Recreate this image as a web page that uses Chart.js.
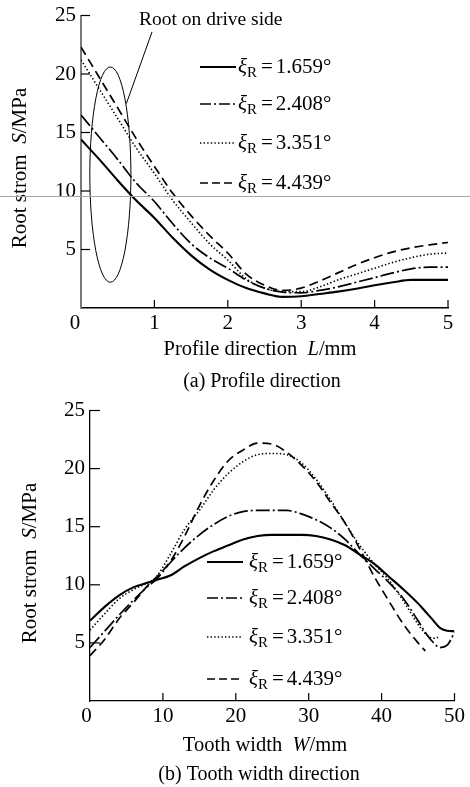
<!DOCTYPE html>
<html><head><meta charset="utf-8">
<script src="https://cdn.jsdelivr.net/npm/chart.js@4.4.0/dist/chart.umd.min.js"></script>
<style>
html,body{margin:0;padding:0;background:#fff;}
#wrap{position:relative;width:470px;height:787px;overflow:hidden;background:#fff;}
#chartA{position:absolute;left:0;top:0;}
#chartB{position:absolute;left:0;top:395px;}
#scan{position:absolute;left:0;top:196px;width:470px;height:1px;background:#a6a6a6;}
</style></head><body>
<div id="wrap">
<canvas id="chartA" width="470" height="395"></canvas>
<canvas id="chartB" width="470" height="392"></canvas>
<div id="scan"></div>
</div>
<script>
// ---------- data ----------
const seriesLabels = ['1.659', '2.408', '3.351', '4.439'];

// (a) Profile direction
const profileL = [0, 0.25, 0.5, 0.75, 1, 1.25, 1.5, 1.75, 2, 2.25, 2.5, 2.75, 3, 3.25, 3.5, 3.75, 4, 4.25, 4.5, 4.75, 5];
const profile1659 = [14.4, 12.7, 10.9, 9.2, 7.7, 6.0, 4.5, 3.3, 2.4, 1.7, 1.25, 0.95, 1.0, 1.2, 1.4, 1.65, 1.95, 2.2, 2.4, 2.4, 2.4];
const profile2408 = [16.5, 14.6, 12.7, 10.7, 9.1, 7.2, 5.5, 4.3, 3.4, 2.4, 1.7, 1.35, 1.3, 1.5, 1.8, 2.2, 2.6, 3.0, 3.35, 3.5, 3.5];
const profile3351 = [21.2, 18.7, 16.2, 13.7, 11.5, 9.2, 7.3, 5.5, 4.1, 2.5, 1.7, 1.4, 1.4, 1.8, 2.4, 2.9, 3.4, 3.9, 4.3, 4.6, 4.7];
const profile4439 = [22.3, 19.7, 17.1, 14.5, 12.1, 9.8, 7.9, 6.2, 4.7, 2.9, 1.95, 1.5, 1.7, 2.3, 3.0, 3.7, 4.3, 4.8, 5.15, 5.4, 5.6];

// (b) Tooth width direction
const widthW = [0, 2, 4, 6, 8, 9, 11, 13, 15, 17, 19, 21, 23, 25, 27, 29, 31, 33, 35, 37, 39, 41, 43, 45, 46, 47, 48, 49, 50];
const width1659 = [6.9, 8.1, 9.1, 9.8, 10.2, 10.4, 10.8, 11.6, 12.3, 12.9, 13.4, 13.9, 14.2, 14.3, 14.3, 14.3, 14.2, 13.9, 13.4, 12.6, 11.8, 10.7, 9.6, 8.4, 7.7, 7.0, 6.3, 6.05, 6.0];
const width2408 = [4.6, 6.0, 7.4, 8.7, 9.9, 10.4, 11.9, 13.2, 14.3, 15.2, 15.9, 16.3, 16.4, 16.4, 16.4, 16.1, 15.6, 14.9, 13.9, 12.6, 11.4, 10.2, 8.8, 6.9, 5.9, 5.1, 4.6, 4.8, 5.9];
const width3351 = [6.1, 7.5, 8.8, 9.6, 10.2, 10.6, 12.6, 14.8, 16.4, 18.2, 19.6, 20.6, 21.2, 21.3, 21.2, 20.5, 19.1, 17.3, 15.3, 13.4, 11.8, 10.4, 8.6, 6.6, 5.8, 5.4, 5.5, null, null];
const width4439 = [3.9, 5.3, 7.1, 8.5, 10.0, 10.6, 12.0, 14.2, 16.8, 19.0, 20.7, 21.6, 22.2, 22.1, 21.4, 20.3, 18.9, 17.1, 15.3, 13.1, 10.7, 8.6, 6.6, 5.0, 4.3, null, null, null, null];

const yTicks = [0, 5, 10, 15, 20, 25];

// ---------- styles ----------
const FONT = '"Liberation Serif", "Times New Roman", serif';
const styles = [
  { dash: [], width: 2.1 },
  { dash: [14, 3, 2, 3], width: 1.7 },
  { dash: [1.4, 2.2], width: 1.6 },
  { dash: [9, 5], width: 1.7 }
];

function makeDatasets(xs, arrays) {
  return arrays.map((arr, i) => ({
    label: seriesLabels[i],
    data: xs.map((x, k) => ({ x: x, y: arr[k] })),
    borderColor: '#000',
    borderWidth: styles[i].width,
    borderDash: styles[i].dash,
    pointRadius: 0,
    fill: false,
    cubicInterpolationMode: 'monotone',
    spanGaps: false
  }));
}

function fontOf(p, base) {
  const size = p.size || base;
  return (p.it ? 'italic ' : '') + size + 'px ' + FONT;
}
function richWidth(ctx, parts, base) {
  let w = 0;
  parts.forEach(p => { ctx.font = fontOf(p, base); w += (p.gl || 0) + ctx.measureText(p.t).width + (p.gr || 0); });
  return w;
}
function drawRich(ctx, parts, x, y, base, align) {
  ctx.save();
  ctx.textBaseline = 'middle';
  ctx.textAlign = 'left';
  ctx.fillStyle = '#000';
  let cx = align === 'center' ? x - richWidth(ctx, parts, base) / 2 : x;
  parts.forEach(p => {
    ctx.font = fontOf(p, base);
    cx += (p.gl || 0);
    ctx.fillText(p.t, cx, y + (p.dy || 0));
    cx += ctx.measureText(p.t).width + (p.gr || 0);
  });
  ctx.restore();
}
function legendParts(val) {
  return [
    { t: 'ξ', it: true },
    { t: 'R', size: 15, dy: 6 },
    { t: '=', gl: 4, gr: 3 },
    { t: val + '°' }
  ];
}
function drawLegend(ctx, x0, x1, tx, ys) {
  ys.forEach((y, i) => {
    ctx.save();
    ctx.strokeStyle = '#000';
    ctx.lineWidth = styles[i].width;
    ctx.setLineDash(i === 1 ? [11, 3, 2, 3] : (i === 3 ? [8, 4] : styles[i].dash));
    ctx.beginPath();
    ctx.moveTo(x0, y);
    ctx.lineTo(x1, y);
    ctx.stroke();
    ctx.restore();
    drawRich(ctx, legendParts(seriesLabels[i]), tx, y, 21, 'left');
  });
}
function drawInwardTicks(chart, xLen, yLen) {
  const { ctx, scales: { x, y }, chartArea } = chart;
  ctx.save();
  ctx.strokeStyle = '#000';
  ctx.lineWidth = 1.2;
  x.ticks.forEach(t => {
    if (t.value === 0) return;
    const px = x.getPixelForValue(t.value);
    ctx.beginPath(); ctx.moveTo(px, chartArea.bottom); ctx.lineTo(px, chartArea.bottom - xLen); ctx.stroke();
  });
  y.ticks.forEach(t => {
    if (t.value === 0) return;
    const py = y.getPixelForValue(t.value);
    ctx.beginPath(); ctx.moveTo(chartArea.left, py); ctx.lineTo(chartArea.left + yLen, py); ctx.stroke();
  });
  ctx.restore();
}
// shared origin label "0", set slightly left of the corner as in the original
function drawOrigin(chart, shift) {
  const { ctx, scales: { x }, chartArea } = chart;
  ctx.save();
  ctx.font = '21px ' + FONT;
  ctx.fillStyle = '#000';
  ctx.textAlign = 'center';
  ctx.textBaseline = 'top';
  ctx.fillText('0', x.getPixelForValue(0) - shift, chartArea.bottom + 5);
  ctx.restore();
}
function yTitle(ctx, cx, cy) {
  ctx.save();
  ctx.translate(cx, cy);
  ctx.rotate(-Math.PI / 2);
  drawRich(ctx, [{ t: 'Root strom  ' }, { t: 'S', it: true }, { t: '/MPa' }], 0, 0, 21, 'center');
  ctx.restore();
}

const commonScaleY = (w, borderColor, borderWidth) => ({
  type: 'linear', min: 0, max: 25,
  afterBuildTicks: s => { s.ticks = yTicks.map(v => ({ value: v })); },
  grid: { display: false, drawTicks: false },
  border: { display: true, color: borderColor, width: borderWidth },
  ticks: {
    color: '#000', padding: 5,
    font: { family: FONT, size: 21, lineHeight: 1 },
    callback: v => (v === 0 ? '' : String(v))
  },
  afterFit: s => { s.width = w; }
});
const commonScaleX = (max, step, h, bw) => ({
  type: 'linear', min: 0, max: max,
  ticks: {
    stepSize: step, color: '#000', padding: 5, maxRotation: 0,
    font: { family: FONT, size: 21, lineHeight: 1 },
    callback: v => (v === 0 ? '' : String(v))
  },
  grid: { display: false, drawTicks: false },
  border: { display: true, color: '#000', width: bw },
  afterFit: s => { s.height = h; }
});

// ---------- chart (a) ----------
const pluginA = {
  id: 'decorA',
  afterDatasetsDraw(chart) {
    const { ctx, scales: { x, y } } = chart;
    drawInwardTicks(chart, 8, 9);
    drawOrigin(chart, 6);
    // ellipse marking the root on drive side
    const cx = x.getPixelForValue(0.40), cy = y.getPixelForValue(11.4);
    const rx = x.getPixelForValue(0.40 + 0.28) - cx, ry = cy - y.getPixelForValue(11.4 + 9.2);
    ctx.save();
    ctx.strokeStyle = '#000'; ctx.lineWidth = 1;
    ctx.beginPath(); ctx.ellipse(cx, cy, rx, ry, 0, 0, Math.PI * 2); ctx.stroke();
    ctx.beginPath(); ctx.moveTo(cx + rx * 0.78, cy - ry * 0.66); ctx.lineTo(152, 32); ctx.stroke();
    ctx.restore();
    drawRich(ctx, [{ t: 'Root on drive side' }], 139, 20, 19.5, 'left');
    drawLegend(ctx, 200, 236, 238, [67, 104, 143, 183]);
    yTitle(ctx, 20, 168);
    drawRich(ctx, [{ t: 'Profile direction  ' }, { t: 'L', it: true }, { t: '/mm' }], 260, 350, 20.5, 'center');
    drawRich(ctx, [{ t: '(a) Profile direction' }], 262, 382, 20, 'center');
  }
};

new Chart(document.getElementById('chartA'), {
  type: 'line',
  data: { datasets: makeDatasets(profileL, [profile1659, profile2408, profile3351, profile4439]) },
  options: {
    responsive: false, animation: false, devicePixelRatio: 1,
    layout: { padding: { top: 15, right: 22, left: 0, bottom: 0 } },
    plugins: { legend: { display: false }, tooltip: { enabled: false } },
    scales: {
      x: commonScaleX(5, 1, 87, 1.5),
      y: commonScaleY(81, '#7a7a7a', 2)
    }
  },
  plugins: [pluginA]
});

// ---------- chart (b) ----------
const pluginB = {
  id: 'decorB',
  afterDatasetsDraw(chart) {
    const { ctx } = chart;
    drawInwardTicks(chart, 8, 10);
    drawOrigin(chart, 3.5);
    drawLegend(ctx, 207, 243, 249, [167, 203, 242, 284]);
    yTitle(ctx, 30, 168);
    drawRich(ctx, [{ t: 'Tooth width  ' }, { t: 'W', it: true }, { t: '/mm' }], 265, 351, 20.5, 'center');
    drawRich(ctx, [{ t: '(b) Tooth width direction' }], 259, 380, 20, 'center');
  }
};

new Chart(document.getElementById('chartB'), {
  type: 'line',
  data: { datasets: makeDatasets(widthW, [width1659, width2408, width3351, width4439]) },
  options: {
    responsive: false, animation: false, devicePixelRatio: 1,
    layout: { padding: { top: 12, right: 12, left: 0, bottom: 0 } },
    plugins: { legend: { display: false }, tooltip: { enabled: false } },
    scales: {
      x: commonScaleX(50, 10, 86, 1.3),
      y: commonScaleY(90, '#000', 1.3)
    }
  },
  plugins: [pluginB]
});
</script>
</body></html>
